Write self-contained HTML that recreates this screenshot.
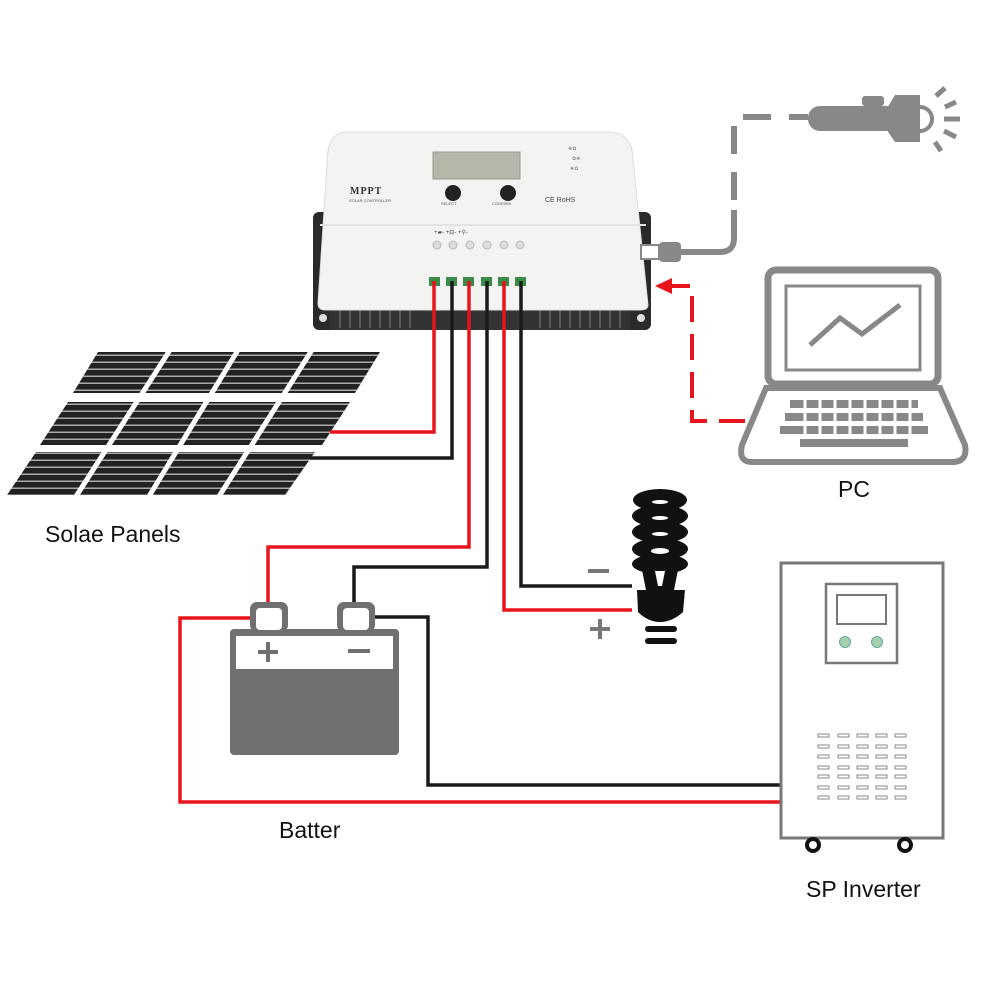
<!DOCTYPE html>
<html><head><style>html,body{margin:0;padding:0;background:#fff}svg{display:block}</style></head>
<body>
<svg width="1000" height="1000" viewBox="0 0 1000 1000" xmlns="http://www.w3.org/2000/svg" font-family="Liberation Sans, sans-serif">
<defs>
<pattern id="cells" width="6" height="7" patternUnits="userSpaceOnUse">
<rect width="6" height="7" fill="#222"/><rect y="4.5" width="6" height="1.5" fill="#aaa"/>
</pattern>
</defs>
<!-- solar panels -->
<g>
<polygon points="98,352 380,352 355,393 73,393" fill="url(#cells)"/>
<polygon points="68,402 350,402 322,445 40,445" fill="url(#cells)"/>
<polygon points="36,452 315,452 285,495 7,495" fill="url(#cells)"/>
<g stroke="#fff" stroke-width="5">
<line x1="170" y1="350" x2="75" y2="498"/>
<line x1="238" y1="350" x2="148" y2="498"/>
<line x1="312" y1="350" x2="218" y2="498"/>
</g>
</g>
<!-- controller back -->
<rect x="313" y="212" width="338" height="118" rx="6" fill="#2a2a2a"/>
<circle cx="323" cy="318" r="4" fill="#ddd"/><circle cx="641" cy="318" r="4" fill="#ddd"/>
<rect x="330" y="295" width="300" height="35" fill="#333"/>
<g stroke="#666" stroke-width="1.5">
<line x1="340" y1="305" x2="340" y2="328"/><line x1="350" y1="305" x2="350" y2="328"/><line x1="360" y1="305" x2="360" y2="328"/><line x1="370" y1="305" x2="370" y2="328"/><line x1="380" y1="305" x2="380" y2="328"/><line x1="390" y1="305" x2="390" y2="328"/><line x1="400" y1="305" x2="400" y2="328"/><line x1="410" y1="305" x2="410" y2="328"/><line x1="540" y1="305" x2="540" y2="328"/><line x1="550" y1="305" x2="550" y2="328"/><line x1="560" y1="305" x2="560" y2="328"/><line x1="570" y1="305" x2="570" y2="328"/><line x1="580" y1="305" x2="580" y2="328"/><line x1="590" y1="305" x2="590" y2="328"/><line x1="600" y1="305" x2="600" y2="328"/><line x1="610" y1="305" x2="610" y2="328"/><line x1="620" y1="305" x2="620" y2="328"/>
</g>
<!-- controller body -->
<path d="M345,132 L610,132 Q628,133 632,150 L648,305 Q648,310 640,310 L325,310 Q318,310 318,303 L328,150 Q332,133 345,132 Z" fill="#f3f3f1" stroke="#ddd"/>
<path d="M320,225 L646,225" stroke="#e2e2e0" stroke-width="2"/>
<rect x="433" y="152" width="87" height="27" fill="#b6b7a8" stroke="#999"/>
<circle cx="453" cy="193" r="8" fill="#222"/><circle cx="508" cy="193" r="8" fill="#222"/>
<text x="350" y="194" font-size="10" font-weight="bold" fill="#333" font-family="Liberation Serif, serif" letter-spacing="1">MPPT</text>
<text x="349" y="202" font-size="4" fill="#555">SOLAR CONTROLLER</text>
<text x="441" y="205" font-size="4" fill="#555">SELECT</text>
<text x="492" y="205" font-size="4" fill="#555">CONFIRM</text>
<text x="545" y="202" font-size="7" fill="#444">CE RoHS</text>
<g fill="#888" font-size="5"><text x="568" y="150">❀✿</text><text x="572" y="160">✿❀</text><text x="570" y="170">❀✿</text></g>
<text x="434" y="234" font-size="6" fill="#555">+▰- +⊟- +⚲-</text>
<g fill="#ddd" stroke="#bbb"><circle cx="437" cy="245" r="4"/><circle cx="453" cy="245" r="4"/><circle cx="470" cy="245" r="4"/><circle cx="487" cy="245" r="4"/><circle cx="504" cy="245" r="4"/><circle cx="520" cy="245" r="4"/></g>
<g fill="#3a8a4a"><rect x="429" y="277" width="11" height="9"/><rect x="446" y="277" width="11" height="9"/><rect x="463" y="277" width="11" height="9"/><rect x="481" y="277" width="11" height="9"/><rect x="498" y="277" width="11" height="9"/><rect x="515" y="277" width="11" height="9"/></g>
<!-- wires -->
<g fill="none" stroke-width="3.5">
<polyline points="434,281 434,432 330,432" stroke="#e8141c"/>
<polyline points="452,281 452,458 310,458" stroke="#1a1a1a"/>
<polyline points="469,281 469,547 268,547 268,602" stroke="#e8141c"/>
<polyline points="487,281 487,567 354,567 354,602" stroke="#1a1a1a"/>
<polyline points="504,281 504,610 632,610" stroke="#e8141c"/>
<polyline points="521,281 521,586 632,586" stroke="#1a1a1a"/>
<polyline points="250,618 180,618 180,802 780,802" stroke="#e8141c"/>
<polyline points="375,617 428,617 428,785 780,785" stroke="#1a1a1a"/>
</g>
<!-- battery -->
<g fill="#707073">
<rect x="250" y="602" width="38" height="30" rx="7"/>
<rect x="337" y="602" width="38" height="30" rx="7"/>
<rect x="230" y="629" width="169" height="126" rx="4"/>
</g>
<rect x="256" y="608" width="26" height="22" rx="4" fill="#fff"/>
<rect x="343" y="608" width="26" height="22" rx="4" fill="#fff"/>
<rect x="236" y="636" width="157" height="33" fill="#fff"/>
<g stroke="#707073" stroke-width="4"><line x1="258" y1="652" x2="278" y2="652"/><line x1="268" y1="642" x2="268" y2="662"/><line x1="348" y1="651" x2="370" y2="651"/></g>
<!-- bulb -->
<g fill="#111">
<ellipse cx="660" cy="500" rx="27" ry="11"/><ellipse cx="660" cy="516" rx="28" ry="11"/><ellipse cx="660" cy="532" rx="28" ry="11"/><ellipse cx="660" cy="549" rx="28" ry="11"/><ellipse cx="660" cy="564" rx="28" ry="10"/>
<path d="M642,570 L678,570 L674,590 L646,590 Z"/>
<path d="M637,590 L685,590 L683,612 Q672,622 660,622 Q648,622 638,612 Z"/>
<rect x="645" y="626" width="32" height="6" rx="3"/><rect x="645" y="638" width="32" height="6" rx="3"/>
</g>
<g fill="#fff"><ellipse cx="660" cy="502" rx="8" ry="2"/><ellipse cx="660" cy="518" rx="8" ry="2"/><ellipse cx="660" cy="534" rx="8" ry="2"/><ellipse cx="660" cy="551" rx="9" ry="3"/><path d="M655,571 L665,571 L662,586 L658,586 Z"/></g>
<g stroke="#777" stroke-width="4"><line x1="588" y1="571" x2="609" y2="571"/><line x1="590" y1="629" x2="610" y2="629"/><line x1="600" y1="619" x2="600" y2="639"/></g>
<!-- inverter -->
<rect x="781" y="563" width="162" height="275" fill="#fff" stroke="#777" stroke-width="3"/>
<rect x="826" y="584" width="71" height="79" fill="#fff" stroke="#777" stroke-width="2.5"/>
<rect x="837" y="595" width="49" height="29" fill="#fff" stroke="#777" stroke-width="2"/>
<circle cx="845" cy="642" r="5.5" fill="#a6cfb0" stroke="#6a9"/><circle cx="877" cy="642" r="5.5" fill="#a6cfb0" stroke="#6a9"/>
<g fill="#fff" stroke="#888" stroke-width="1">
<rect x="818" y="734" width="11" height="3"/><rect x="838" y="734" width="11" height="3"/><rect x="857" y="734" width="11" height="3"/><rect x="876" y="734" width="11" height="3"/><rect x="895" y="734" width="11" height="3"/>
<rect x="818" y="745" width="11" height="3"/><rect x="838" y="745" width="11" height="3"/><rect x="857" y="745" width="11" height="3"/><rect x="876" y="745" width="11" height="3"/><rect x="895" y="745" width="11" height="3"/>
<rect x="818" y="755" width="11" height="3"/><rect x="838" y="755" width="11" height="3"/><rect x="857" y="755" width="11" height="3"/><rect x="876" y="755" width="11" height="3"/><rect x="895" y="755" width="11" height="3"/>
<rect x="818" y="766" width="11" height="3"/><rect x="838" y="766" width="11" height="3"/><rect x="857" y="766" width="11" height="3"/><rect x="876" y="766" width="11" height="3"/><rect x="895" y="766" width="11" height="3"/>
<rect x="818" y="775" width="11" height="3"/><rect x="838" y="775" width="11" height="3"/><rect x="857" y="775" width="11" height="3"/><rect x="876" y="775" width="11" height="3"/><rect x="895" y="775" width="11" height="3"/>
<rect x="818" y="786" width="11" height="3"/><rect x="838" y="786" width="11" height="3"/><rect x="857" y="786" width="11" height="3"/><rect x="876" y="786" width="11" height="3"/><rect x="895" y="786" width="11" height="3"/>
<rect x="818" y="796" width="11" height="3"/><rect x="838" y="796" width="11" height="3"/><rect x="857" y="796" width="11" height="3"/><rect x="876" y="796" width="11" height="3"/><rect x="895" y="796" width="11" height="3"/>
</g>
<circle cx="813" cy="845" r="6" fill="#fff" stroke="#111" stroke-width="4"/><circle cx="905" cy="845" r="6" fill="#fff" stroke="#111" stroke-width="4"/>
<!-- laptop -->
<rect x="768" y="270" width="170" height="114" rx="8" fill="none" stroke="#888" stroke-width="7"/>
<rect x="786" y="286" width="134" height="84" fill="none" stroke="#888" stroke-width="3"/>
<polyline points="810,345 840,318 862,334 900,305" fill="none" stroke="#888" stroke-width="5"/>
<path d="M766,388 L940,388 L965,445 Q968,462 952,462 L752,462 Q738,462 742,445 Z" fill="none" stroke="#888" stroke-width="6"/>
<g fill="#888">
<rect x="790" y="400" width="128" height="8"/><rect x="785" y="413" width="138" height="8"/><rect x="780" y="426" width="148" height="8"/><rect x="800" y="439" width="108" height="8"/>
</g>
<g stroke="#fff" stroke-width="3">
<line x1="805" y1="398" x2="805" y2="436"/><line x1="820" y1="398" x2="820" y2="436"/><line x1="835" y1="398" x2="835" y2="436"/><line x1="850" y1="398" x2="850" y2="436"/><line x1="865" y1="398" x2="865" y2="436"/><line x1="880" y1="398" x2="880" y2="436"/><line x1="895" y1="398" x2="895" y2="436"/><line x1="910" y1="398" x2="910" y2="436"/>
</g>
<!-- red dashed -->
<polyline points="745,421 692,421 692,286 668,286" fill="none" stroke="#e8141c" stroke-width="4" stroke-dasharray="26,12"/>
<polygon points="655,286 672,278 672,294" fill="#e8141c"/>
<!-- usb / gray dashed -->
<rect x="641" y="245" width="18" height="14" fill="#fff" stroke="#888" stroke-width="2"/>
<rect x="659" y="242" width="22" height="20" rx="4" fill="#888"/>
<path d="M680,252 L720,252 Q734,252 734,238 L734,210" fill="none" stroke="#888" stroke-width="6"/>
<polyline points="734,200 734,117 808,117" fill="none" stroke="#888" stroke-width="6" stroke-dasharray="28,18"/>
<rect x="808" y="106" width="100" height="25" rx="12" fill="#888"/>
<rect x="862" y="96" width="22" height="10" rx="3" fill="#888"/>
<polygon points="895,95 920,95 920,142 895,142 880,120" fill="#888"/>
<path d="M920,107 A12,12 0 0 1 920,131" fill="none" stroke="#888" stroke-width="4"/>
<g stroke="#888" stroke-width="5"><line x1="936" y1="96" x2="945" y2="88"/><line x1="945" y1="107" x2="956" y2="102"/><line x1="944" y1="119" x2="960" y2="119"/><line x1="944" y1="131" x2="956" y2="137"/><line x1="935" y1="142" x2="941" y2="151"/></g>
<!-- labels -->
<text x="45" y="542" font-size="23" fill="#111">Solae Panels</text>
<text x="279" y="838" font-size="23" fill="#111">Batter</text>
<text x="838" y="497" font-size="23" fill="#111">PC</text>
<text x="806" y="897" font-size="23" fill="#111">SP Inverter</text>
</svg>
</body></html>
